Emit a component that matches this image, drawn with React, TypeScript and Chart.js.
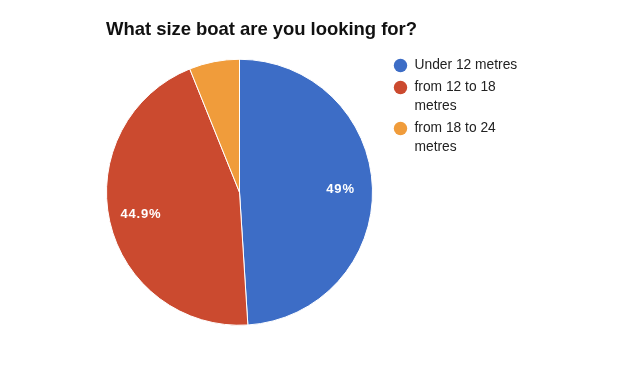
import React, { useEffect, useRef } from "react";
import { Chart, registerables } from "chart.js";

Chart.register(...registerables);

const title = "What size boat are you looking for?";
const categories = ["Under 12 metres", "from 12 to 18 metres", "from 18 to 24 metres"];
const legendLines = [["Under 12 metres"], ["from 12 to 18", "metres"], ["from 18 to 24", "metres"]];
const values = [49, 44.9, 6.1];
const colors = ["#3d6dc6", "#cb4a2f", "#f09c3b"];

const FONT = "Arial, 'Liberation Sans', Helvetica, sans-serif";

const fitText = (ctx: any, text: string, x: number, y: number, width: number) => {
  ctx.letterSpacing = "0px";
  const w = ctx.measureText(text).width;
  const sp = (width - w) / Math.max(1, text.length - 1);
  ctx.letterSpacing = `${sp}px`;
  ctx.fillText(text, x, y);
  ctx.letterSpacing = "0px";
};

const titlePlugin = {
  id: "titlePlugin",
  afterDraw(chart: any) {
    const { ctx } = chart;
    ctx.save();
    ctx.fillStyle = "#111111";
    ctx.font = `bold 18.5px ${FONT}`;
    ctx.textAlign = "left";
    ctx.textBaseline = "alphabetic";
    fitText(ctx, title, 106, 35, 311);
    ctx.restore();
  },
};

const sliceLabels = {
  id: "sliceLabels",
  afterDatasetsDraw(chart: any) {
    const { ctx } = chart;
    const meta = chart.getDatasetMeta(0);
    const data = chart.data.datasets[0].data as number[];
    const total = data.reduce((a, b) => a + b, 0);
    ctx.save();
    ctx.fillStyle = "#ffffff";
    ctx.font = `bold 13px ${FONT}`;
    ctx.letterSpacing = "0.8px";
    ctx.textAlign = "center";
    ctx.textBaseline = "middle";
    meta.data.forEach((arc: any, i: number) => {
      const pct = (data[i] / total) * 100;
      if (pct < 10) return;
      const mid = (arc.startAngle + arc.endAngle) / 2;
      const r = arc.outerRadius * 0.76;
      const x = arc.x + Math.cos(mid) * r;
      const y = arc.y + Math.sin(mid) * r;
      const txt = (Math.round(pct * 10) / 10).toString() + "%";
      ctx.fillText(txt, x, y);
    });
    ctx.restore();
  },
};

const sideLegend = {
  id: "sideLegend",
  afterDraw(chart: any) {
    const { ctx } = chart;
    ctx.save();
    ctx.font = `13.8px ${FONT}`;
    ctx.textBaseline = "middle";
    ctx.textAlign = "left";
    let y = 65.5;
    legendLines.forEach((lines, i) => {
      ctx.fillStyle = colors[i];
      ctx.beginPath();
      ctx.arc(400.5, y, 6.7, 0, Math.PI * 2);
      ctx.fill();
      ctx.fillStyle = "#222222";
      lines.forEach((ln, j) => {
        ctx.fillText(ln, 414.5, y + j * 19);
      });
      y += (lines.length - 1) * 19 + 22;
    });
    ctx.restore();
  },
};

export default function App() {
  const ref = useRef<HTMLCanvasElement>(null);
  useEffect(() => {
    document.body.style.margin = "0";
    const chart = new Chart(ref.current!, {
      type: "pie",
      data: {
        labels: categories,
        datasets: [
          {
            data: values,
            backgroundColor: colors,
            borderColor: "#ffffff",
            borderWidth: 1,
          },
        ],
      },
      options: {
        animation: false,
        responsive: false,
        layout: { padding: { left: 106, right: 267, top: 58.5, bottom: 58 } },
        plugins: {
          legend: { display: false },
          tooltip: { enabled: false },
          title: { display: false },
        },
      },
      plugins: [sliceLabels, sideLegend, titlePlugin],
    });
    return () => chart.destroy();
  }, []);
  return (
    <div style={{ width: 640, height: 384, background: "#ffffff" }}>
      <canvas ref={ref} width={640} height={384} />
    </div>
  );
}
